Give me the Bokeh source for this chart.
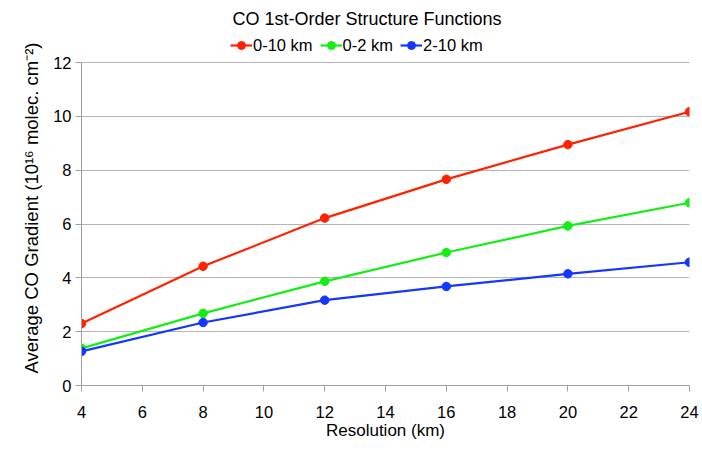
from bokeh.plotting import figure
from bokeh.models import Range1d, Legend, SingleIntervalTicker
from bokeh.embed import file_html
from bokeh.resources import INLINE

resolution = [4, 8, 12, 16, 20, 24]
series_names = ["0-10 km", "0-2 km", "2-10 km"]
v_0_10 = [2.30, 4.43, 6.22, 7.66, 8.95, 10.17]
v_0_2 = [1.38, 2.68, 3.87, 4.94, 5.93, 6.79]
v_2_10 = [1.27, 2.34, 3.17, 3.68, 4.15, 4.58]
colors = ["#ff2200", "#14ee14", "#1436ff"]
y_ticks_max = 12

FONT = "Liberation Sans"

# frame spans from page y=30 to y=385; 12 units = 323 px
p = figure(width=702, height=450, output_backend="svg", toolbar_location=None,
           x_range=Range1d(4, 24), y_range=Range1d(0, 13.19),
           min_border_left=81, min_border_right=13, min_border_bottom=65, min_border_top=30)
p.background_fill_color = "white"
p.outline_line_color = None

p.title.text = "CO 1st-Order Structure Functions"
p.title.align = "left"
p.title.offset = 151
p.title.text_font = FONT
p.title.text_font_size = "18px"
p.title.text_font_style = "normal"
p.title.text_color = "#000000"
p.title.standoff = 4

renderers = []
for name, vals, c in zip(series_names, [v_0_10, v_0_2, v_2_10], colors):
    l = p.line(resolution, vals, line_color=c, line_width=2.2)
    s = p.scatter(resolution, vals, size=8.5, fill_color=c, line_color=c)
    renderers.append((name, [l, s]))

legend = Legend(items=renderers, orientation="horizontal", location=(149, 330),
                label_text_font=FONT, label_text_font_size="16.5px",
                label_text_color="#000000",
                glyph_width=22, spacing=7, label_standoff=1, padding=2, margin=0,
                border_line_color=None, background_fill_alpha=0)
p.add_layout(legend, "center")

p.xaxis.ticker = SingleIntervalTicker(interval=2)
p.yaxis.ticker = SingleIntervalTicker(interval=2)
p.yaxis.bounds = (0, y_ticks_max)
for ax in (p.xaxis[0], p.yaxis[0]):
    ax.axis_line_color = "#a0a0a0"
    ax.major_tick_line_color = "#a0a0a0"
    ax.minor_tick_line_color = None
    ax.major_tick_in = 0
    ax.major_tick_out = 6
    ax.major_label_text_font = FONT
    ax.major_label_text_font_size = "16.5px"
    ax.major_label_text_color = "#000000"
    ax.axis_label_text_font = FONT
    ax.axis_label_text_font_style = "normal"
    ax.axis_label_text_color = "#000000"

p.xaxis.axis_label_text_font_size = "17px"
p.yaxis.axis_label_text_font_size = "18.5px"
p.xaxis.axis_label = "Resolution (km)"
p.yaxis.axis_label = "Average CO Gradient (10\u00b9\u2076 molec. cm\u207b\u00b2)"
p.xaxis.major_label_standoff = 14
p.yaxis.major_label_standoff = 4
p.xaxis.axis_label_standoff = 0
p.yaxis.axis_label_standoff = 8

p.xgrid.grid_line_color = None
p.ygrid.grid_line_color = "#b4b4b4"
p.ygrid.grid_line_width = 1

open("out.html", "w").write(file_html(p, INLINE))
